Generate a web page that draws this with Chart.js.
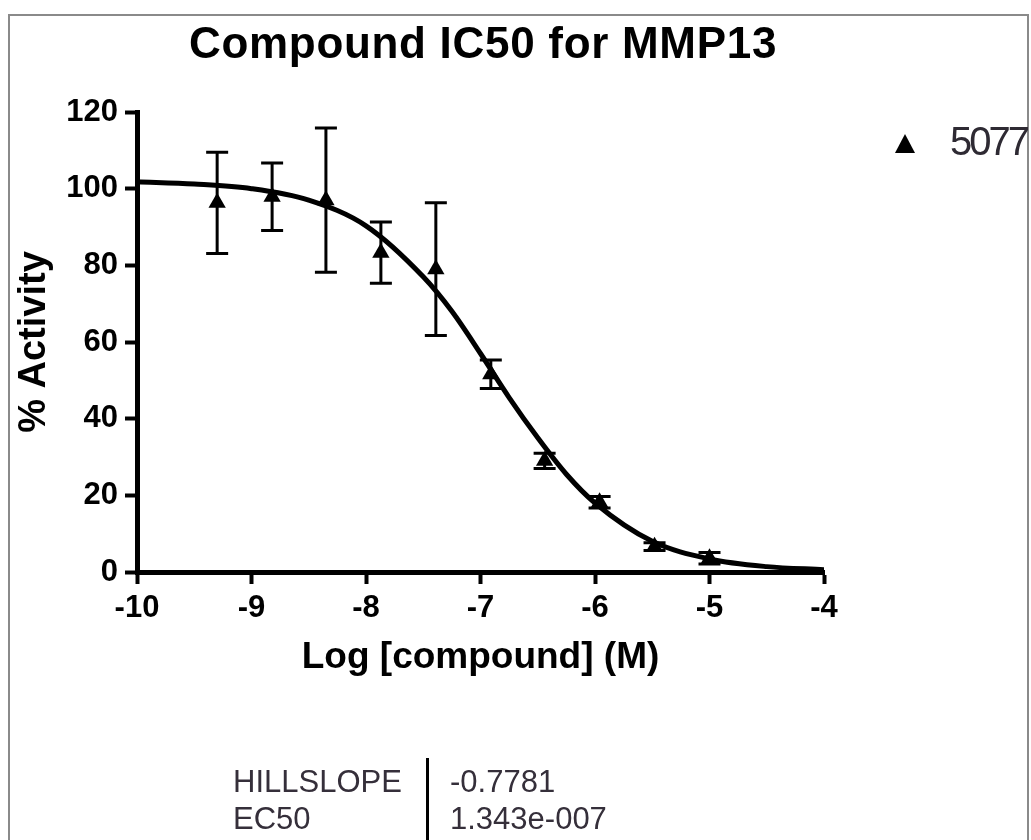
<!DOCTYPE html>
<html>
<head>
<meta charset="utf-8">
<title>Compound IC50 for MMP13</title>
<script src="https://cdn.jsdelivr.net/npm/chart.js"></script>
<style>
    body { margin: 0; background: #fff; font-family: 'Liberation Sans', Arial, sans-serif; }
    #page { position: relative; width: 1031px; height: 840px; overflow: hidden; background: #fff; }
    #frame { position: absolute; left: 8px; top: 14px; width: 1017px; height: 900px; border: 2px solid #8a8a8a; }
    #myChart { position: absolute; left: 0; top: 0; }
    .txt { position: absolute; white-space: nowrap; }
    #title { left: 0; width: 966px; top: 21px; text-align: center; font-weight: bold; font-size: 44px; line-height: 44px; letter-spacing: 0.7px; color: #000; }
    #legendMark { position: absolute; left: 895px; top: 134px; width: 0; height: 0;
        border-left: 10px solid transparent; border-right: 10px solid transparent; border-bottom: 19px solid #000; }
    #legendText { left: 950px; top: 121px; font-size: 40px; line-height: 40px; letter-spacing: -3px; color: #2e2a33; }
    .cell { font-size: 31px; line-height: 31px; color: #352f3a; }
    #tableLine { position: absolute; left: 426px; top: 758px; width: 3px; height: 100px; background: #000; }
</style>
</head>
<body>
<div id="page">
    <div id="frame"></div>
    <canvas id="myChart" width="1031" height="840"></canvas>
    <div id="title" class="txt">Compound IC50 for MMP13</div>
    <div id="legendMark"></div>
    <div id="legendText" class="txt">5077</div>
    <div class="txt cell" style="left:233px; top:766px">HILLSLOPE</div>
    <div class="txt cell" style="left:233px; top:803px">EC50</div>
    <div id="tableLine"></div>
    <div class="txt cell" style="left:450px; top:766px">-0.7781</div>
    <div class="txt cell" style="left:450px; top:803px">1.343e-007</div>
</div>
<script>
// Measured points: log concentration, mean % activity, error (SEM)
const logConc = [-9.3, -8.82, -8.35, -7.87, -7.39, -6.91, -6.44, -5.96, -5.48, -5.0]
const activity = [96.3, 97.9, 97, 83.3, 79, 51.6, 29, 18.2, 6.6, 3.6]
const activityErr = [13.2, 8.8, 18.8, 8, 17.3, 3.7, 2, 1.5, 1, 1.5]

// Fitted curve
const curveX = [-10, -9.5, -9, -8.5, -8, -7.5, -7.25, -7, -6.75, -6.5, -6.25, -6, -5.5, -5, -4.5, -4]
const curveY = [101.8, 101.2, 100, 97, 90.3, 77, 68, 57, 45.5, 35, 25.5, 18, 8, 3.4, 1.4, 0.6]

// Axis ticks
const xTicks = [-10, -9, -8, -7, -6, -5, -4]
const yTicks = [0, 20, 40, 60, 80, 100, 120]

const seriesName = '5077'
const family = "'Liberation Sans', Arial, sans-serif"

// Error bars drawn through the chart scales
const errorBars = {
    id: 'errorBars',
    beforeDatasetsDraw(chart) {
        const {ctx, scales: {x, y}} = chart
        ctx.save()
        ctx.strokeStyle = '#000'
        ctx.lineWidth = 3
        for (let i = 0; i < logConc.length; i++) {
            const px = x.getPixelForValue(logConc[i])
            const top = y.getPixelForValue(activity[i] + activityErr[i])
            const bottom = y.getPixelForValue(activity[i] - activityErr[i])
            ctx.beginPath()
            ctx.moveTo(px, top)
            ctx.lineTo(px, bottom)
            ctx.moveTo(px - 11, top)
            ctx.lineTo(px + 11, top)
            ctx.moveTo(px - 11, bottom)
            ctx.lineTo(px + 11, bottom)
            ctx.stroke()
        }
        ctx.restore()
    }
}

const ctx = document.getElementById('myChart').getContext('2d')
const myChart = new Chart(ctx, {
    type: 'scatter',
    data: {
        datasets: [{
            label: seriesName,
            data: logConc.map((v, i) => ({x: v, y: activity[i]})),
            pointStyle: 'triangle',
            pointRadius: 10,
            backgroundColor: '#000',
            borderColor: '#000',
            borderWidth: 0,
            order: 0
        }, {
            label: 'fit',
            data: curveX.map((v, i) => ({x: v, y: curveY[i]})),
            showLine: true,
            cubicInterpolationMode: 'monotone',
            borderColor: '#000',
            borderWidth: 5,
            pointRadius: 0,
            order: 1
        }]
    },
    options: {
        responsive: false,
        animation: false,
        devicePixelRatio: 1,
        layout: { padding: { left: 0, top: 112, right: 207, bottom: 148 } },
        plugins: {
            legend: { display: false },
            tooltip: { enabled: false },
            title: { display: false }
        },
        scales: {
            x: {
                type: 'linear',
                min: -10,
                max: -4,
                afterFit: s => { s.height = 120 },
                afterBuildTicks: s => { s.ticks = xTicks.map(v => ({value: v})) },
                ticks: { color: '#000', padding: 6, font: {family: family, size: 31, weight: 'bold'} },
                grid: { drawOnChartArea: false, drawTicks: true, tickLength: 12, tickWidth: 4, tickColor: '#000' },
                border: { display: true, color: '#000', width: 5 },
                title: { display: true, text: 'Log [compound] (M)', color: '#000',
                    font: {family: family, size: 37, weight: 'bold'}, padding: {top: 0, bottom: 12} }
            },
            y: {
                min: 0,
                max: 120,
                afterFit: s => { s.width = 137 },
                afterBuildTicks: s => { s.ticks = yTicks.map(v => ({value: v})) },
                ticks: { color: '#000', padding: 7, font: {family: family, size: 31, weight: 'bold'} },
                grid: { drawOnChartArea: false, drawTicks: true, tickLength: 12, tickWidth: 4, tickColor: '#000' },
                border: { display: true, color: '#000', width: 5 },
                title: { display: true, text: '% Activity', color: '#000',
                    font: {family: family, size: 38, weight: 'bold'}, padding: {top: 12, bottom: 0} }
            }
        }
    },
    plugins: [errorBars]
})
</script>
</body>
</html>
